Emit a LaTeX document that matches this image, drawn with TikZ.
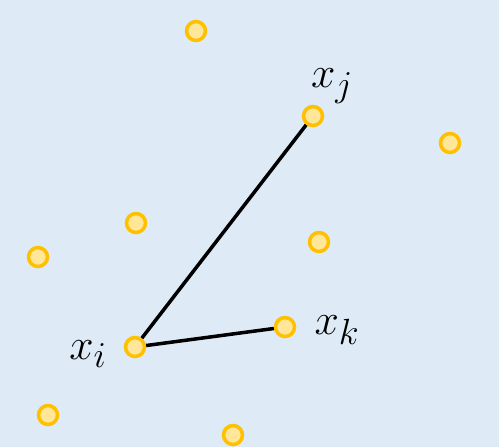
\documentclass[tikz,border=0pt]{standalone}
\usepackage{amsmath}
\usetikzlibrary{positioning}
\definecolor{bgblue}{RGB}{222,235,247}
\definecolor{ptfill}{RGB}{255,230,153}
\definecolor{ptline}{RGB}{255,192,0}

\begin{document}
\begin{tikzpicture}[x=0.02cm, y=-0.02cm]
  \tikzset{
    pt/.style={circle,draw=ptline,fill=ptfill,line width=2pt,minimum size=0.38cm,inner sep=0pt},
    lbl/.style={inner sep=0pt,font=\fontsize{31}{34}\selectfont},
    edge/.style={line width=2pt,black}
  }
  \fill[bgblue] (0,0) rectangle (499,447);
  \useasboundingbox (0,0) rectangle (499,447);
  % points
  \node[pt] (p1) at (196,31) {};
  \node[pt] (p2) at (450,143) {};
  \node[pt] (p3) at (136,223) {};
  \node[pt] (p4) at (38,257) {};
  \node[pt] (p5) at (319,242) {};
  \node[pt] (p6) at (48,415) {};
  \node[pt] (p7) at (233,435) {};
  \node[pt] (xj) at (313,116) {};
  \node[pt] (xk) at (285,327) {};
  \node[pt] (xi) at (135,347) {};
  % connectors
  \draw[edge] (xi) -- (xj);
  \draw[edge] (xi) -- (xk);
  % labels
  \node[lbl] (lj) at (332,86) {$x_j$};
  \node[lbl] (lk) at (337,330) {$x_k$};
  \node[lbl] (li) at (88,354) {$x_i$};
\end{tikzpicture}
\end{document}
